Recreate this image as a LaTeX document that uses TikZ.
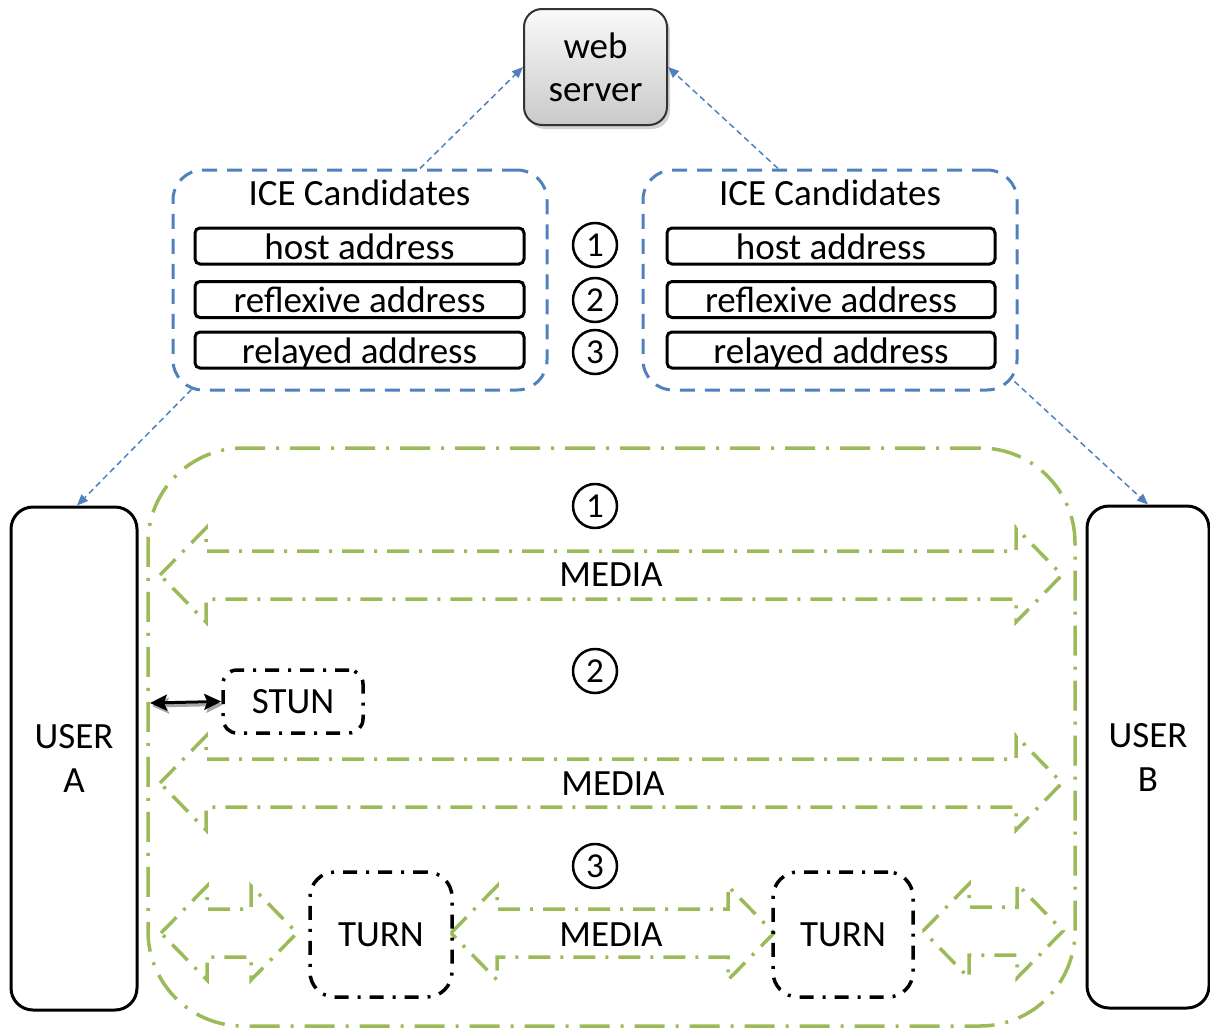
\documentclass[tikz,border=0pt]{standalone}
\usepackage{fontspec}
\setmainfont{Carlito}
\usetikzlibrary{arrows.meta,shadows}
\definecolor{mgreen}{RGB}{155,187,89}
\definecolor{mblue}{RGB}{79,129,189}
\newcommand{\blockarr}[3]{%
  \draw[media] (#1,#3) -- (#1+46,#3-47) -- (#1+46,#3-24) -- (#2-46,#3-24) -- (#2-46,#3-47) -- (#2,#3)
    -- (#2-46,#3+47) -- (#2-46,#3+24) -- (#1+46,#3+24) -- (#1+46,#3+47) -- cycle;}
\begin{document}
\begin{tikzpicture}[x=1pt,y=-1pt,
  font=\fontsize{37}{44}\selectfont,
  every node/.style={inner sep=0pt},
  webbox/.style={draw=black!80, line width=2pt, rounded corners=18pt, top color=gray!4, bottom color=gray!42,
    minimum width=143pt, minimum height=116pt, align=center, font=\fontsize{37}{43}\selectfont,
    drop shadow={shadow xshift=3pt, shadow yshift=-4pt, opacity=0.35}},
  iceframe/.style={draw=mblue, line width=3pt, dash pattern=on 15pt off 10pt, rounded corners=30pt,
    minimum width=374pt, minimum height=220pt},
  addr/.style={draw, line width=3pt, rounded corners=5pt, minimum height=36pt, text height=28pt, text depth=2pt},
  numcirc/.style={draw, circle, line width=2.5pt, minimum size=44pt, font=\fontsize{35}{40}\selectfont},
  userbox/.style={draw, line width=3pt, rounded corners=22pt, align=center},
  cont/.style={draw=mgreen, line width=3.5pt, dash pattern=on 30pt off 11pt on 3pt off 11pt, rounded corners=95pt},
  media/.style={draw=mgreen, line width=3.5pt, dash pattern=on 22pt off 10pt on 3pt off 10pt, line join=miter},
  srv/.style={draw, line width=3.5pt, dash pattern=on 14pt off 9pt on 3pt off 9pt},
  bluearr/.style={mblue, line width=1.5pt, dash pattern=on 6pt off 4pt, -{Triangle[length=11pt,width=9pt]}},
  blk/.style={line width=3pt, {Stealth[length=17pt,width=16pt,inset=3pt]}-{Stealth[length=17pt,width=16pt,inset=3pt]}}
]
\path[use as bounding box] (0,0) rectangle (1210,1028);

% web server
\node[webbox] (web) at (595.5,67) {web\\server};

% ICE candidate frames
\node[iceframe] (iceL) at (360,280) {};
\node[iceframe] (iceR) at (830,280) {};
\node (tL) at (359.5,193) {ICE Candidates};
\node (tR) at (830,193) {ICE Candidates};
\node[addr, minimum width=329pt] (h1) at (359.5,246) {host address};
\node[addr, minimum width=329pt] (r1) at (359.5,299.5) {reflexive address};
\node[addr, minimum width=329pt] (l1) at (359.5,350) {relayed address};
\node[addr, minimum width=328pt] (h2) at (831,246) {host address};
\node[addr, minimum width=328pt] (r2) at (831,299.5) {reflexive address};
\node[addr, minimum width=328pt] (l2) at (831,350) {relayed address};
\node[numcirc] (c1) at (595,245) {1};
\node[numcirc] (c2) at (595,300) {2};
\node[numcirc] (c3) at (595,352) {3};

% users
\node[userbox, minimum width=126pt, minimum height=503pt] (userA) at (74,758.5) {USER\\A};
\node[userbox, minimum width=122pt, minimum height=502pt] (userB) at (1148,757) {USER\\B};

% blue connectors
\draw[bluearr] ([xshift=60pt]iceL.north) -- (web.west);
\draw[bluearr] ([xshift=-52pt]iceR.north) -- (web.east);
\draw[bluearr] ([xshift=20pt,yshift=2pt]iceL.south west) -- ([xshift=3pt]userA.north);
\draw[bluearr] ([xshift=-4pt,yshift=10pt]iceR.south east) -- (userB.north);

% green area
\node[cont, minimum width=927pt, minimum height=578pt] (area) at (611.5,737) {};
\node[numcirc] (g1) at (595,506) {1};
\node[numcirc] (g2) at (595,671) {2};
\node[numcirc] (g3) at (595,866) {3};

% media arrows
\blockarr{160}{1062}{575}
\blockarr{160}{1062}{783}
\blockarr{161}{297}{933}
\blockarr{451}{774}{933}
\blockarr{923}{1063}{931}
\node (m1) at (611,575) {MEDIA};
\node (m2) at (613,784) {MEDIA};
\node (m3) at (611,935) {MEDIA};

% STUN / TURN
\node[srv, rounded corners=14pt, minimum width=140pt, minimum height=63pt] (stun) at (293,701.5) {STUN};
\node[srv, rounded corners=25pt, minimum width=142pt, minimum height=125pt] (turnL) at (381,934.5) {TURN};
\node[srv, rounded corners=25pt, minimum width=140pt, minimum height=125pt] (turnR) at (843,934.5) {TURN};

\coordinate (sa) at (150,703);
\draw[blk, black!35, transform canvas={shift={(2pt,-3pt)}}] (sa) -- (stun.west);
\draw[blk] (sa) -- (stun.west);
\end{tikzpicture}
\end{document}
